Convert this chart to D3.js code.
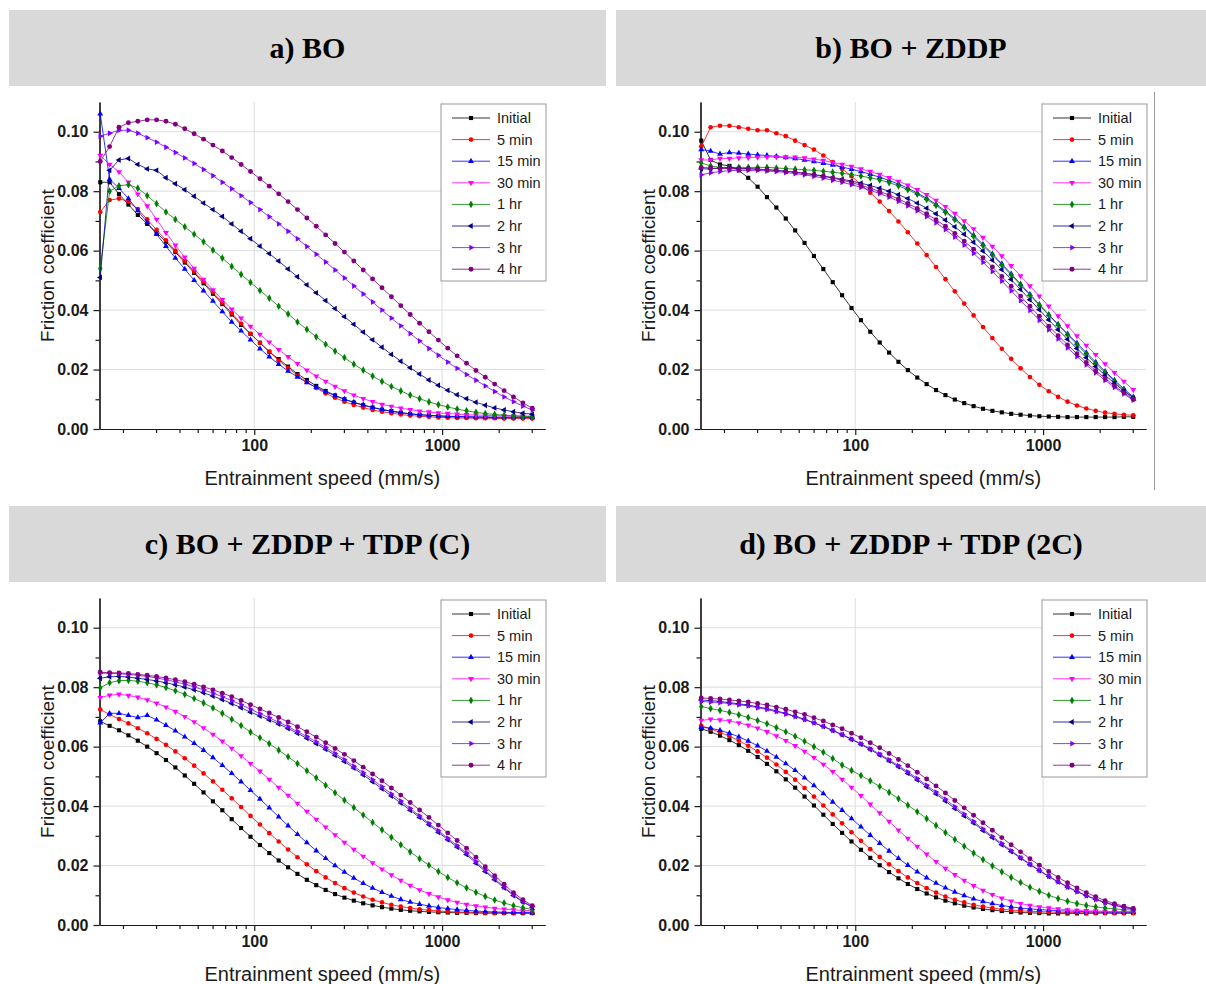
<!DOCTYPE html>
<html>
<head>
<meta charset="utf-8">
<style>
body { margin: 0; background: #fff; }
svg { display: block; background: #fff; }
.axis text { font-family: "Liberation Sans", Arial, sans-serif; font-weight: bold; font-size: 16px; fill: #1a1a1a; }
.axis path, .axis line { stroke: #1a1a1a; stroke-width: 1.2; }
.grid line { stroke: #dedede; stroke-width: 1; }
.title { font-family: "Liberation Sans", Arial, sans-serif; font-size: 20px; fill: #1a1a1a; }
.ytitle { font-size: 19px; }
.legend text { font-family: "Liberation Sans", Arial, sans-serif; font-size: 14.5px; fill: #1a1a1a; }
.header text { font-family: "Liberation Serif", "Times New Roman", serif; font-weight: bold; font-size: 30px; fill: #000; }
</style>
</head>
<body>
<div id="chart"></div>
<script src="https://cdn.jsdelivr.net/npm/d3@7"></script>
<script>

// entrainment speed (mm/s), shared by every series
var speed = [15.14, 16.98, 19.05, 21.38, 23.99, 26.92, 30.20, 33.88, 38.02, 42.66,
  47.86, 53.70, 60.26, 67.61, 75.86, 85.11, 95.50, 107.2, 120.2, 134.9,
  151.4, 169.8, 190.5, 213.8, 239.9, 269.2, 302.0, 338.8, 380.2, 426.6,
  478.6, 537.0, 602.6, 676.1, 758.6, 851.1, 955.0, 1072, 1202, 1349,
  1514, 1698, 1905, 2138, 2399, 2692, 3020];

var seriesNames = ["Initial", "5 min", "15 min", "30 min", "1 hr", "2 hr", "3 hr", "4 hr"];
var seriesColors = ["#000000", "#ff0000", "#0000ff", "#ff00ff", "#008000", "#000080", "#8000ff", "#800080"];
var panelTitles = ["a) BO", "b) BO + ZDDP", "c) BO + ZDDP + TDP (C)", "d) BO + ZDDP + TDP (2C)"];
var yMajorTicks = [0, 0.02, 0.04, 0.06, 0.08, 0.10];
var xMajorTicks = [100, 1000];

// a) BO
var a_initial = [0.083,0.083,0.079,0.0755,0.072,0.069,0.066,0.063,0.0595,0.056,0.0525,0.049,0.0455,0.042,0.0385,0.035,0.032,0.029,0.026,0.0235,0.021,0.0185,0.0165,0.0145,0.0128,0.0113,0.010,0.0089,0.008,0.0072,0.0065,0.006,0.0055,0.0051,0.0048,0.0046,0.0044,0.0042,0.0041,0.004,0.0039,0.0039,0.0038,0.0038,0.0038,0.0038,0.0038];
var a_5min = [0.073,0.077,0.0775,0.0765,0.074,0.0705,0.067,0.0635,0.060,0.0565,0.053,0.0495,0.046,0.0425,0.039,0.0355,0.032,0.029,0.026,0.023,0.0205,0.018,0.0158,0.0138,0.012,0.0105,0.0092,0.0081,0.0072,0.0064,0.0058,0.0053,0.0049,0.0045,0.0043,0.0041,0.0039,0.0038,0.0037,0.0037,0.0036,0.0036,0.0036,0.0035,0.0035,0.0035,0.0035];
var a_15min = [0.106,0.084,0.081,0.0775,0.0735,0.0695,0.0655,0.0615,0.0575,0.0538,0.050,0.0465,0.043,0.0395,0.036,0.033,0.030,0.027,0.0243,0.0218,0.0195,0.0175,0.0156,0.014,0.0125,0.0112,0.010,0.009,0.0081,0.0073,0.0066,0.006,0.0055,0.0051,0.0048,0.0046,0.0044,0.0043,0.0042,0.0042,0.0041,0.0041,0.004,0.004,0.004,0.004,0.004];
var a_30min = [0.092,0.089,0.0865,0.083,0.079,0.075,0.0705,0.066,0.0618,0.0578,0.054,0.0503,0.0468,0.0435,0.0403,0.0373,0.0345,0.0318,0.0292,0.0267,0.0243,0.022,0.0198,0.0178,0.016,0.0143,0.0128,0.0114,0.0102,0.0092,0.0083,0.0076,0.007,0.0065,0.006,0.0057,0.0054,0.0052,0.005,0.0048,0.0047,0.0046,0.0045,0.0044,0.0044,0.0043,0.0043];
var a_1hr = [0.054,0.080,0.0818,0.0822,0.081,0.0785,0.0758,0.073,0.0705,0.068,0.0655,0.063,0.0602,0.0575,0.0547,0.052,0.0493,0.0466,0.044,0.0413,0.0387,0.036,0.0335,0.031,0.0285,0.0262,0.024,0.0218,0.0198,0.0178,0.016,0.0143,0.0128,0.0114,0.0102,0.0091,0.0082,0.0074,0.0067,0.0061,0.0056,0.0052,0.0049,0.0046,0.0044,0.0043,0.0042];
var a_2hr = [0.051,0.087,0.0905,0.091,0.089,0.0875,0.087,0.0845,0.0825,0.0805,0.0783,0.076,0.0738,0.0715,0.069,0.0665,0.064,0.0615,0.059,0.0565,0.0538,0.0512,0.0485,0.0458,0.0432,0.0405,0.0378,0.0352,0.0326,0.030,0.0275,0.0251,0.0228,0.0206,0.0185,0.0165,0.0147,0.013,0.0115,0.0102,0.009,0.008,0.0071,0.0064,0.0058,0.0053,0.005];
var a_3hr = [0.0985,0.0995,0.1005,0.1005,0.0995,0.098,0.0965,0.0948,0.093,0.0912,0.0893,0.0873,0.0852,0.083,0.0808,0.0785,0.0762,0.0738,0.0714,0.069,0.0665,0.064,0.0614,0.0588,0.0562,0.0535,0.0508,0.0481,0.0454,0.0427,0.040,0.0373,0.0347,0.0321,0.0296,0.0271,0.0248,0.0225,0.0204,0.0183,0.0164,0.0145,0.0126,0.0108,0.0092,0.0077,0.0064];
var a_4hr = [0.090,0.095,0.1015,0.103,0.1035,0.104,0.104,0.1035,0.1025,0.101,0.0993,0.0975,0.0955,0.0935,0.0913,0.089,0.0866,0.0842,0.0817,0.0791,0.0765,0.0738,0.071,0.0682,0.0653,0.0624,0.0595,0.0565,0.0535,0.0505,0.0475,0.0445,0.0415,0.0385,0.0356,0.0327,0.0299,0.0272,0.0246,0.0221,0.0197,0.0174,0.0151,0.0129,0.0108,0.0088,0.007];

// b) BO + ZDDP
var b_initial = [0.097,0.0905,0.089,0.0885,0.087,0.0845,0.0815,0.078,0.0745,0.0708,0.0668,0.0626,0.0582,0.0538,0.0494,0.045,0.0407,0.0366,0.0327,0.0291,0.0257,0.0226,0.0198,0.0173,0.0151,0.0131,0.0114,0.0099,0.0087,0.0077,0.0068,0.0061,0.0056,0.0051,0.0048,0.0045,0.0043,0.0042,0.0041,0.004,0.004,0.004,0.004,0.004,0.004,0.0041,0.0041];
var b_5min = [0.095,0.1015,0.102,0.102,0.1015,0.101,0.1005,0.1005,0.0995,0.0985,0.097,0.0955,0.094,0.092,0.0898,0.0875,0.085,0.0823,0.0795,0.0765,0.0733,0.0698,0.0662,0.0624,0.0585,0.0545,0.0504,0.0463,0.0422,0.0382,0.0343,0.0306,0.027,0.0236,0.0204,0.0175,0.0149,0.0127,0.0108,0.0092,0.0079,0.0069,0.0061,0.0055,0.0051,0.0048,0.0046];
var b_15min = [0.094,0.0935,0.0925,0.093,0.0928,0.0925,0.0922,0.092,0.0917,0.0913,0.091,0.0905,0.09,0.0894,0.0888,0.0881,0.0874,0.0866,0.0857,0.0847,0.0836,0.0824,0.081,0.0794,0.0776,0.0756,0.0733,0.0708,0.0681,0.0652,0.0621,0.0589,0.0556,0.0522,0.0488,0.0453,0.0419,0.0385,0.0352,0.032,0.0289,0.0257,0.0225,0.0194,0.0164,0.0135,0.0108];
var b_30min = [0.0905,0.0905,0.091,0.091,0.0912,0.0913,0.0914,0.0915,0.0915,0.0915,0.0914,0.0912,0.0908,0.0903,0.0897,0.089,0.0883,0.0875,0.0866,0.0856,0.0845,0.0833,0.082,0.0805,0.0788,0.0769,0.0748,0.0725,0.07,0.0673,0.0644,0.0614,0.0582,0.0549,0.0515,0.0481,0.0447,0.0413,0.038,0.0347,0.0313,0.0281,0.025,0.0219,0.0189,0.016,0.0132];
var b_1hr = [0.0895,0.0885,0.088,0.088,0.088,0.088,0.088,0.088,0.0878,0.0876,0.0874,0.0872,0.087,0.0867,0.0864,0.086,0.0856,0.0851,0.0845,0.0838,0.0829,0.0818,0.0805,0.079,0.0772,0.0752,0.0729,0.0704,0.0677,0.0648,0.0617,0.0585,0.0552,0.0518,0.0484,0.045,0.0416,0.0383,0.035,0.0318,0.0284,0.0252,0.022,0.019,0.016,0.0131,0.0105];
var b_2hr = [0.0875,0.0875,0.0878,0.0878,0.0877,0.0876,0.0874,0.0872,0.087,0.0867,0.0864,0.086,0.0856,0.0851,0.0846,0.084,0.0834,0.0827,0.0819,0.081,0.08,0.0788,0.0775,0.076,0.0743,0.0724,0.0703,0.068,0.0655,0.0628,0.0599,0.0568,0.0536,0.0503,0.0469,0.0435,0.0401,0.0367,0.0334,0.0302,0.0271,0.024,0.021,0.0181,0.0154,0.0128,0.0104];
var b_3hr = [0.0855,0.0862,0.0866,0.0869,0.087,0.087,0.087,0.0868,0.0866,0.0863,0.0859,0.0855,0.085,0.0844,0.0837,0.083,0.0822,0.0813,0.0803,0.0792,0.078,0.0766,0.0751,0.0734,0.0715,0.0694,0.0671,0.0646,0.0619,0.0591,0.0561,0.053,0.0498,0.0465,0.0432,0.0399,0.0366,0.0334,0.0303,0.0273,0.0244,0.0216,0.0189,0.0164,0.014,0.0118,0.0097];
var b_4hr = [0.088,0.0878,0.0876,0.0876,0.0875,0.0875,0.0874,0.0872,0.087,0.0867,0.0864,0.086,0.0855,0.085,0.0844,0.0837,0.0829,0.082,0.081,0.0799,0.0787,0.0774,0.0759,0.0742,0.0724,0.0704,0.0682,0.0658,0.0632,0.0605,0.0576,0.0545,0.0513,0.048,0.0447,0.0413,0.0379,0.0346,0.0314,0.0283,0.0253,0.0224,0.0196,0.017,0.0145,0.0122,0.01];

// c) BO + ZDDP + TDP (C)
var c_initial = [0.0685,0.067,0.0655,0.0638,0.062,0.060,0.0578,0.0555,0.053,0.0503,0.0475,0.0446,0.0416,0.0386,0.0356,0.0326,0.0297,0.0269,0.0242,0.0217,0.0194,0.0172,0.0152,0.0134,0.0118,0.0104,0.0092,0.0082,0.0073,0.0066,0.006,0.0055,0.0051,0.0048,0.0046,0.0044,0.0043,0.0042,0.0041,0.0041,0.004,0.004,0.004,0.004,0.004,0.004,0.004];
var c_5min = [0.0725,0.0708,0.0693,0.0678,0.0662,0.0645,0.0626,0.0606,0.0584,0.0561,0.0536,0.051,0.0483,0.0455,0.0426,0.0397,0.0367,0.0338,0.0309,0.0281,0.0254,0.0228,0.0204,0.0181,0.016,0.0141,0.0124,0.0109,0.0096,0.0085,0.0076,0.0068,0.0062,0.0057,0.0053,0.005,0.0047,0.0045,0.0044,0.0043,0.0042,0.0041,0.0041,0.0041,0.004,0.004,0.004];
var c_15min = [0.068,0.0712,0.0712,0.0705,0.0698,0.0705,0.069,0.0672,0.0653,0.0633,0.0611,0.0588,0.0563,0.0537,0.051,0.0482,0.0453,0.0424,0.0394,0.0364,0.0334,0.0305,0.0277,0.025,0.0224,0.02,0.0178,0.0158,0.014,0.0124,0.011,0.0097,0.0086,0.0077,0.007,0.0064,0.0059,0.0055,0.0052,0.0049,0.0047,0.0045,0.0044,0.0043,0.0042,0.0042,0.0041];
var c_30min = [0.0765,0.0773,0.0776,0.0772,0.0766,0.0757,0.0746,0.0733,0.0718,0.0701,0.0683,0.0663,0.0641,0.0618,0.0594,0.0569,0.0543,0.0517,0.049,0.0463,0.0436,0.0409,0.0382,0.0355,0.0329,0.0303,0.0278,0.0254,0.0231,0.0209,0.0188,0.0168,0.015,0.0133,0.0118,0.0105,0.0094,0.0084,0.0076,0.0069,0.0064,0.006,0.0056,0.0053,0.0051,0.0049,0.0048];
var c_1hr = [0.0798,0.0815,0.0822,0.0823,0.082,0.0815,0.0808,0.0799,0.0788,0.0776,0.0762,0.0747,0.073,0.0712,0.0692,0.0671,0.0649,0.063,0.061,0.0588,0.0566,0.0543,0.0519,0.0495,0.047,0.0445,0.042,0.0395,0.037,0.0345,0.032,0.0295,0.027,0.0246,0.0223,0.0201,0.018,0.016,0.0142,0.0125,0.011,0.0096,0.0084,0.0074,0.0065,0.0058,0.0052];
var c_2hr = [0.083,0.0835,0.0836,0.0834,0.083,0.0826,0.0821,0.0815,0.0808,0.08,0.0791,0.0781,0.077,0.0758,0.0745,0.0731,0.0716,0.0703,0.069,0.0676,0.0661,0.0645,0.0628,0.061,0.0591,0.0571,0.055,0.0528,0.0505,0.0482,0.0458,0.0434,0.041,0.0386,0.0362,0.0337,0.0312,0.0287,0.0262,0.0237,0.0208,0.018,0.0152,0.0125,0.0099,0.0077,0.006];
var c_3hr = [0.0848,0.0846,0.0845,0.0843,0.084,0.0836,0.0831,0.0825,0.0818,0.081,0.0801,0.0791,0.078,0.0768,0.0755,0.0741,0.0726,0.0711,0.0697,0.0682,0.0667,0.0651,0.0634,0.0616,0.0597,0.0577,0.0556,0.0534,0.0512,0.0489,0.0465,0.0441,0.0417,0.0392,0.0367,0.0342,0.0317,0.0292,0.0267,0.0242,0.0213,0.0184,0.0156,0.0128,0.0102,0.0079,0.0062];
var c_4hr = [0.085,0.0849,0.0848,0.0846,0.0843,0.084,0.0836,0.0831,0.0825,0.0818,0.081,0.0801,0.0791,0.078,0.0768,0.0755,0.0741,0.0727,0.0713,0.0698,0.0683,0.0667,0.065,0.0632,0.0613,0.0594,0.0574,0.0553,0.0531,0.0508,0.0485,0.0461,0.0437,0.0412,0.0387,0.0362,0.0336,0.031,0.0284,0.0258,0.0228,0.0196,0.0166,0.0137,0.0109,0.0085,0.0065];

// d) BO + ZDDP + TDP (2C)
var d_initial = [0.066,0.065,0.0637,0.0622,0.0605,0.0586,0.0565,0.0542,0.0517,0.049,0.0462,0.0432,0.0402,0.0371,0.034,0.031,0.0281,0.0253,0.0226,0.0201,0.0178,0.0157,0.0138,0.0121,0.0106,0.0093,0.0082,0.0073,0.0065,0.0059,0.0054,0.005,0.0047,0.0044,0.0042,0.0041,0.004,0.0039,0.0039,0.0039,0.0039,0.0039,0.004,0.004,0.004,0.004,0.004];
var d_5min = [0.067,0.066,0.0648,0.0635,0.062,0.0603,0.0584,0.0563,0.054,0.0515,0.0489,0.0461,0.0432,0.0402,0.0372,0.0342,0.0312,0.0283,0.0255,0.0229,0.0204,0.0181,0.016,0.0141,0.0124,0.0109,0.0096,0.0085,0.0076,0.0068,0.0062,0.0057,0.0053,0.005,0.0048,0.0046,0.0045,0.0044,0.0043,0.0042,0.0042,0.0041,0.0041,0.0041,0.004,0.004,0.004];
var d_15min = [0.0665,0.0662,0.0655,0.0645,0.0633,0.0619,0.0603,0.0585,0.0565,0.0543,0.052,0.0495,0.0469,0.0442,0.0414,0.0386,0.0358,0.033,0.0302,0.0275,0.0249,0.0224,0.0201,0.0179,0.0159,0.0141,0.0125,0.0111,0.0099,0.0088,0.0079,0.0072,0.0066,0.0061,0.0057,0.0054,0.0052,0.005,0.0048,0.0047,0.0046,0.0045,0.0044,0.0044,0.0043,0.0043,0.0043];
var d_30min = [0.0688,0.0692,0.069,0.0686,0.068,0.0672,0.0662,0.065,0.0636,0.062,0.0603,0.0584,0.0563,0.054,0.0516,0.049,0.0463,0.0435,0.0406,0.0377,0.0348,0.0319,0.0291,0.0264,0.0238,0.0213,0.019,0.0169,0.015,0.0132,0.0116,0.0102,0.009,0.008,0.0072,0.0066,0.0061,0.0057,0.0054,0.0051,0.0049,0.0048,0.0047,0.0046,0.0045,0.0045,0.0045];
var d_1hr = [0.0735,0.0728,0.0722,0.0715,0.0707,0.0698,0.0688,0.0677,0.0664,0.065,0.0635,0.0618,0.06,0.0581,0.056,0.0538,0.052,0.0503,0.0485,0.0466,0.0446,0.0425,0.0403,0.0381,0.0358,0.0335,0.0311,0.0288,0.0265,0.0242,0.022,0.0199,0.0179,0.016,0.0143,0.0127,0.0113,0.01,0.0089,0.008,0.0072,0.0066,0.0061,0.0057,0.0054,0.0052,0.005];
var d_2hr = [0.0757,0.0755,0.0752,0.0748,0.0744,0.074,0.0734,0.0728,0.072,0.0712,0.0702,0.0692,0.068,0.0668,0.0654,0.064,0.0624,0.0608,0.059,0.0572,0.0552,0.0532,0.051,0.0488,0.0465,0.0441,0.0417,0.0392,0.0367,0.0343,0.0318,0.0294,0.027,0.0247,0.0225,0.0203,0.0183,0.0163,0.0145,0.0128,0.0113,0.0099,0.0087,0.0076,0.0067,0.006,0.0054];
var d_3hr = [0.0752,0.075,0.0748,0.0745,0.0741,0.0737,0.0731,0.0725,0.0718,0.071,0.0701,0.0691,0.068,0.0668,0.0655,0.0641,0.0626,0.061,0.0593,0.0575,0.0556,0.0536,0.0515,0.0493,0.047,0.0447,0.0423,0.0398,0.0373,0.0348,0.0323,0.0298,0.0274,0.025,0.0227,0.0205,0.0184,0.0164,0.0145,0.0128,0.0112,0.0098,0.0086,0.0075,0.0066,0.0059,0.0053];
var d_4hr = [0.0764,0.0762,0.076,0.0757,0.0754,0.075,0.0745,0.074,0.0733,0.0726,0.0717,0.0708,0.0697,0.0686,0.0673,0.066,0.0645,0.063,0.0613,0.0596,0.0577,0.0557,0.0536,0.0514,0.0491,0.0468,0.0444,0.0419,0.0394,0.0369,0.0344,0.0319,0.0294,0.027,0.0246,0.0223,0.0201,0.018,0.016,0.0142,0.0125,0.0109,0.0095,0.0082,0.0072,0.0063,0.0056];

var panelSeries = [
  [a_initial, a_5min, a_15min, a_30min, a_1hr, a_2hr, a_3hr, a_4hr],
  [b_initial, b_5min, b_15min, b_30min, b_1hr, b_2hr, b_3hr, b_4hr],
  [c_initial, c_5min, c_15min, c_30min, c_1hr, c_2hr, c_3hr, c_4hr],
  [d_initial, d_5min, d_15min, d_30min, d_1hr, d_2hr, d_3hr, d_4hr]
];

// layout
var colX = [0, 601], rowY = [0, 496];
var headerX = [9, 15], headerW = [597, 590];
var plot = { left: 99.5, right: 545, top: 102, bottom: 429 };

// marker per series: shape + rotation
var markers = [
  { type: d3.symbolSquare, rot: 0, size: 17 },
  { type: d3.symbolCircle, rot: 0, size: 17 },
  { type: d3.symbolTriangle, rot: 0, size: 15 },
  { type: d3.symbolTriangle, rot: 180, size: 15 },
  { type: d3.symbolDiamond, rot: 0, size: 17 },
  { type: d3.symbolTriangle, rot: -90, size: 15 },
  { type: d3.symbolTriangle, rot: 90, size: 15 },
  { type: d3.symbolCircle, rot: 0, size: 19 }
];

var svg = d3.select("#chart")
  .append("svg")
  .attr("width", 1206)
  .attr("height", 984);

var x = d3.scaleLog().domain([15, 3530]).range([plot.left, plot.right]);
var y = d3.scaleLinear().domain([0, 0.11]).range([plot.bottom, plot.top]);

panelSeries.forEach(function(series, k) {
  var col = k % 2, row = Math.floor(k / 2);
  var g = svg.append("g")
    .attr("transform", "translate(" + colX[col] + "," + rowY[row] + ")");

  // header band
  var hd = g.append("g").attr("class", "header");
  hd.append("rect")
    .attr("x", headerX[col]).attr("y", 10)
    .attr("width", headerW[col]).attr("height", 76)
    .attr("fill", "#d9d9d9");
  hd.append("text")
    .attr("x", headerX[col] + headerW[col] / 2)
    .attr("y", 58)
    .attr("text-anchor", "middle")
    .text(panelTitles[k]);

  // grid
  var grid = g.append("g").attr("class", "grid");
  grid.selectAll(".gx").data(xMajorTicks).enter().append("line")
    .attr("x1", function(d) { return x(d); }).attr("x2", function(d) { return x(d); })
    .attr("y1", plot.top).attr("y2", plot.bottom);
  grid.selectAll(".gy").data(yMajorTicks.slice(1)).enter().append("line")
    .attr("x1", plot.left).attr("x2", plot.right)
    .attr("y1", function(d) { return y(d); }).attr("y2", function(d) { return y(d); });

  // axes
  var minorX = x.ticks().filter(function(t) { return xMajorTicks.indexOf(t) < 0; });
  g.append("g").attr("class", "axis")
    .attr("transform", "translate(0," + plot.bottom + ")")
    .call(d3.axisBottom(x).tickValues(minorX).tickSize(4).tickSizeOuter(0).tickFormat(""));
  g.append("g").attr("class", "axis")
    .attr("transform", "translate(0," + plot.bottom + ")")
    .call(d3.axisBottom(x).tickValues(xMajorTicks).tickSize(6).tickSizeOuter(0).tickPadding(5).tickFormat(d3.format("d")));

  var minorY = yMajorTicks.slice(0, -1).map(function(t) { return t + 0.01; });
  g.append("g").attr("class", "axis")
    .attr("transform", "translate(" + plot.left + ",0)")
    .call(d3.axisLeft(y).tickValues(minorY).tickSize(4).tickSizeOuter(0).tickFormat(""));
  g.append("g").attr("class", "axis")
    .attr("transform", "translate(" + plot.left + ",0)")
    .call(d3.axisLeft(y).tickValues(yMajorTicks).tickSize(6).tickSizeOuter(0).tickPadding(5).tickFormat(d3.format(".2f")));

  // axis titles
  g.append("text").attr("class", "title")
    .attr("x", (plot.left + plot.right) / 2).attr("y", 485)
    .attr("text-anchor", "middle")
    .text("Entrainment speed (mm/s)");
  g.append("text").attr("class", "title ytitle")
    .attr("transform", "translate(54," + ((plot.top + plot.bottom) / 2) + ") rotate(-90)")
    .attr("text-anchor", "middle")
    .text("Friction coefficient");

  // series
  var line = d3.line()
    .x(function(d) { return x(d[0]); })
    .y(function(d) { return y(d[1]); });

  series.forEach(function(vals, s) {
    var pts = vals.map(function(v, i) { return [speed[i], v]; });
    g.append("path")
      .attr("d", line(pts))
      .attr("fill", "none")
      .attr("stroke", seriesColors[s])
      .attr("stroke-width", 0.8);
    var m = markers[s];
    g.append("g").selectAll("path")
      .data(pts).enter().append("path")
      .attr("transform", function(d) { return "translate(" + x(d[0]) + "," + y(d[1]) + ") rotate(" + m.rot + ")"; })
      .attr("d", d3.symbol().type(m.type).size(m.size))
      .attr("fill", seriesColors[s]);
  });

  // legend
  var lg = g.append("g").attr("class", "legend")
    .attr("transform", "translate(441,104)");
  lg.append("rect")
    .attr("width", 105).attr("height", 177)
    .attr("fill", "#fff").attr("stroke", "#999").attr("stroke-width", 1);
  seriesNames.forEach(function(name, s) {
    var ly = 14 + s * 21.6;
    lg.append("line")
      .attr("x1", 11).attr("x2", 49).attr("y1", ly).attr("y2", ly)
      .attr("stroke", seriesColors[s]).attr("stroke-width", 0.8);
    lg.append("path")
      .attr("transform", "translate(30," + ly + ") rotate(" + markers[s].rot + ")")
      .attr("d", d3.symbol().type(markers[s].type).size(markers[s].size))
      .attr("fill", seriesColors[s]);
    lg.append("text")
      .attr("x", 56).attr("y", ly).attr("dy", "0.35em")
      .text(name);
  });
});

// thin frame line right of panel b
svg.append("line")
  .attr("x1", 1154.5).attr("x2", 1154.5).attr("y1", 92).attr("y2", 490)
  .attr("stroke", "#999").attr("stroke-width", 1);

</script>
</body>
</html>
